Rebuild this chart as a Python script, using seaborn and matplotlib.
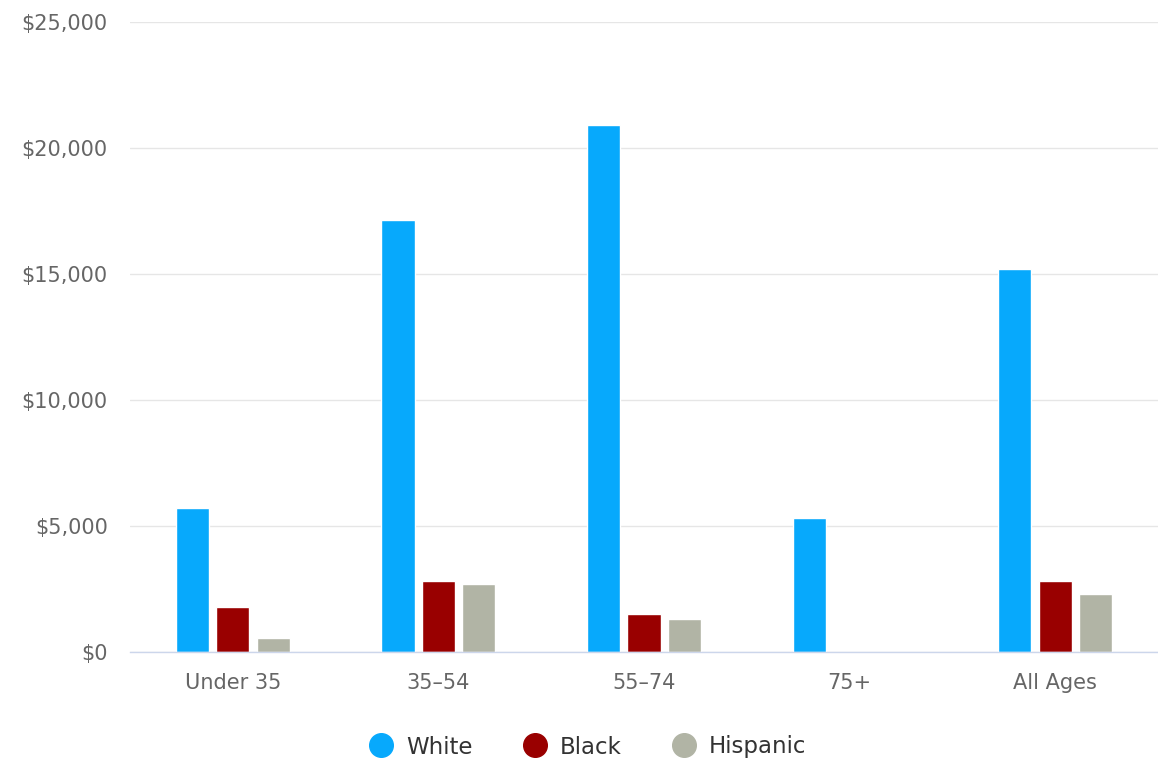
import numpy as np
import pandas as pd
import matplotlib
matplotlib.use('Agg')
import matplotlib.pyplot as plt
from matplotlib.lines import Line2D
from matplotlib.ticker import FuncFormatter
import seaborn as sns

# data
age_groups = ['Under 35', '35-54', '55-74', '75+', 'All Ages']
white = [5700, 17150, 20900, 5300, 15200]
black = [1800, 2800, 1500, np.nan, 2800]
hispanic = [550, 2700, 1300, np.nan, 2300]

races = ['White', 'Black', 'Hispanic']
colors = ['#07a9fc', '#990000', '#b1b4a5']

df = pd.DataFrame({'age': age_groups, 'White': white, 'Black': black, 'Hispanic': hispanic})
df = df.melt(id_vars='age', var_name='race', value_name='value')

sns.set_style('white')
plt.rcParams['font.family'] = ['DejaVu Sans']

fig = plt.figure(figsize=(11.58, 7.59), dpi=100)
ax = fig.add_axes([130 / 1158, 1 - 652 / 759, 1 - 130 / 1158, (652 - 22) / 759])

sns.barplot(data=df, x='age', y='value', hue='race', hue_order=races,
            palette=colors, order=age_groups, width=0.59, gap=0.18,
            edgecolor='white', linewidth=1, saturation=1, ax=ax, legend=False)

ax.set_ylim(0, 25000)
ax.set_xlim(-0.5, len(age_groups) - 0.5)
ax.set_yticks(range(0, 25001, 5000))
ax.yaxis.set_major_formatter(FuncFormatter(lambda v, p: f'${v:,.0f}'))
ax.grid(axis='y', color='#e6e6e6', linewidth=1)
ax.set_axisbelow(True)
for s in ['top', 'right', 'left']:
    ax.spines[s].set_visible(False)
ax.spines['bottom'].set_color('#ccd6eb')
ax.spines['bottom'].set_linewidth(1)
ax.tick_params(axis='both', length=0, labelsize=15, colors='#666666')
ax.tick_params(axis='x', pad=15)
ax.tick_params(axis='y', pad=16)
ax.set_xticks(range(len(age_groups)))
ax.set_xticklabels([a.replace('-', '\u2013') for a in age_groups])
ax.set_xlabel('')
ax.set_ylabel('')

handles = [Line2D([0], [0], marker='o', linestyle='', markersize=17,
                  markerfacecolor=c, markeredgecolor=c) for c in colors]
fig.legend(handles, races, loc='center', bbox_to_anchor=(0.503, 1 - 747 / 759),
           ncol=3, frameon=False, fontsize=16.5, labelcolor='#333333',
           handletextpad=0.1, columnspacing=1.7)

fig.savefig('out.png', dpi=100)
